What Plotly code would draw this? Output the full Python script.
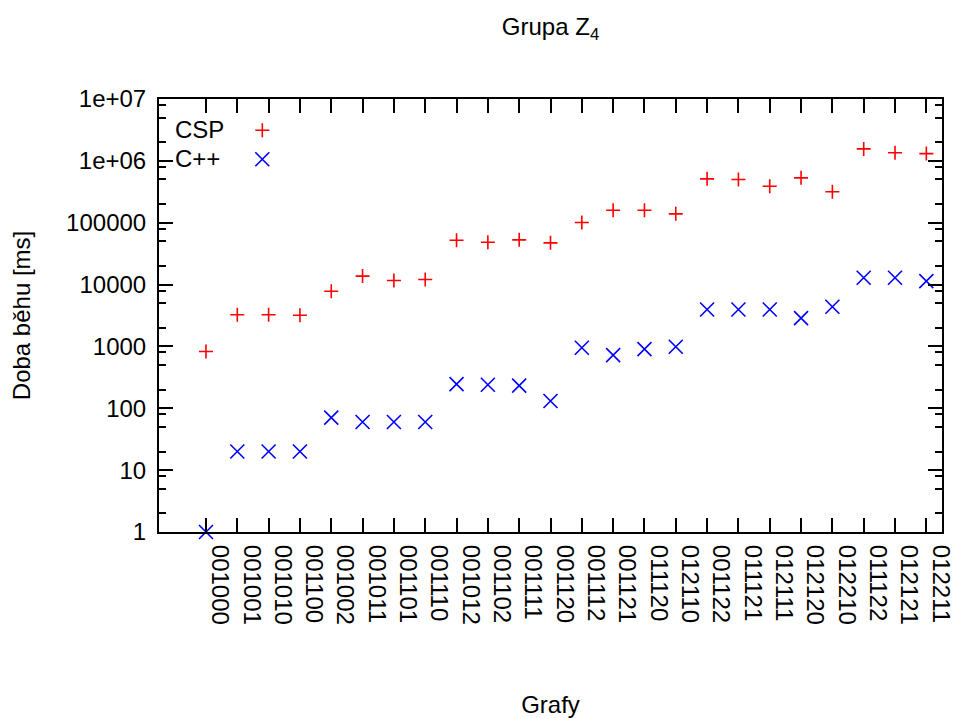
import plotly.graph_objects as go

categories = ["001000", "001001", "001010", "001100", "001002", "001011", "001101", "001110",
              "001012", "001102", "001111", "001120", "001112", "001121", "011120", "012110",
              "001122", "011121", "012111", "012120", "012210", "011122", "012121", "012211"]
x_pos = list(range(1, len(categories) + 1))

csp_ms = [830, 3250, 3250, 3200, 7800, 13700, 11650, 12100,
          52100, 48400, 52800, 47300, 100700, 159000, 159000, 139000,
          512000, 499000, 389000, 531000, 316000, 1560000, 1350000, 1310000]
cpp_ms = [1, 20, 20, 20, 70.5, 60, 60, 60,
          246, 240, 232, 131, 953, 723, 904, 989,
          3960, 3960, 3960, 2870, 4380, 12880, 12880, 11350]

y_tickvals = [1, 10, 100, 1000, 10000, 100000, 1000000, 10000000]
y_ticktext = ["1", "10", "100", "1000", "10000", "100000", "1e+06", "1e+07"]
y_minor = [m * 10 ** e for e in range(0, 7) for m in (2, 5, 8)]

series_names = ["CSP", "C++"]

FONT = "Liberation Sans, Arial, sans-serif"

fig = go.Figure()
fig.add_trace(go.Scatter(
    x=x_pos, y=csp_ms, mode="markers", name=" ", cliponaxis=False,
    marker=dict(symbol="cross-thin", size=10, line=dict(color="#ff0000", width=1.6), color="#ff0000"),
    hovertemplate="CSP: %{y}<extra></extra>", legendgroup="a",
))
fig.add_trace(go.Scatter(
    x=x_pos, y=cpp_ms, mode="markers", name=" ", cliponaxis=False,
    marker=dict(symbol="x-thin", size=14, line=dict(color="#0000ff", width=1.6), color="#0000ff"),
    hovertemplate="C++: %{y}<extra></extra>", legendgroup="b",
))

axis_common = dict(
    showline=True, linecolor="black", linewidth=2, mirror="allticks",
    ticks="inside", ticklen=14, tickwidth=1.5, tickcolor="black",
    showgrid=False, zeroline=False, automargin=False,
    tickfont=dict(family=FONT, size=24, color="black"),
)

fig.update_layout(
    width=955, height=718,
    margin=dict(l=159, r=13, t=99, b=186),
    paper_bgcolor="white", plot_bgcolor="white",
    font=dict(family=FONT, size=24, color="black"),
    title=dict(text="Grupa Z<sub>4</sub>", x=0.5765, xanchor="center",
               y=1 - 27 / 718, yanchor="middle", font=dict(family=FONT, size=24, color="black")),
    xaxis=dict(
        range=[-0.5, 24.5], tickmode="array", tickvals=x_pos, ticktext=categories,
        tickangle=90, ticklabelshift=14, ticklabelstandoff=6, ticklabeloverflow="allow",
        title=dict(text="Grafy", standoff=74, font=dict(family=FONT, size=24)),
        **axis_common,
    ),
    yaxis=dict(
        type="log", range=[0, 7], tickmode="array", tickvals=y_tickvals, ticktext=y_ticktext,
        ticklabelstandoff=6,
        minor=dict(tickvals=y_minor, ticks="inside", ticklen=7, tickwidth=1.5, tickcolor="black"),
        title=dict(text="Doba běhu [ms]", standoff=29, font=dict(family=FONT, size=24)),
        **axis_common,
    ),
    showlegend=True,
    legend=dict(x=0.1064, y=0.973, xanchor="left", yanchor="top", bgcolor="rgba(0,0,0,0)",
                font=dict(family=FONT, size=20), tracegroupgap=0, itemsizing="trace"),
    annotations=[
        dict(text=series_names[0], xref="paper", yref="paper", x=0.0175, y=0.929,
             xanchor="left", yanchor="middle", showarrow=False, font=dict(family=FONT, size=24)),
        dict(text=series_names[1], xref="paper", yref="paper", x=0.0175, y=0.862,
             xanchor="left", yanchor="middle", showarrow=False, font=dict(family=FONT, size=24)),
    ],
)

fig.write_html("out.html")
